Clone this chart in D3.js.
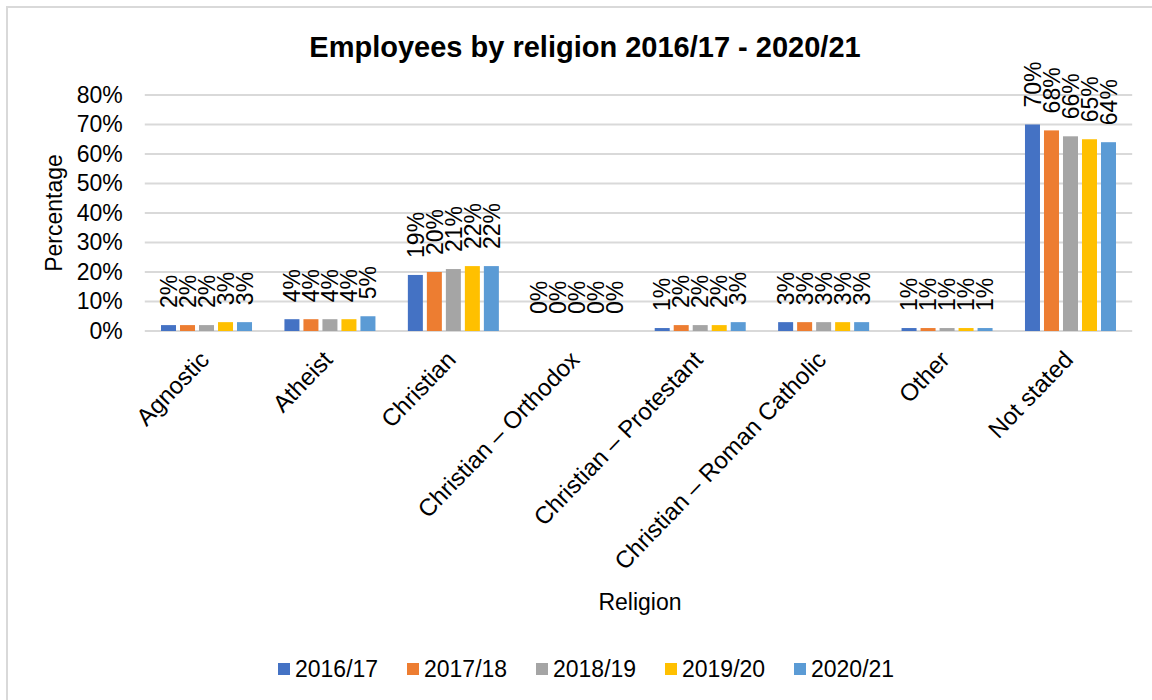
<!DOCTYPE html>
<html>
<head>
<meta charset="utf-8">
<script src="https://cdn.jsdelivr.net/npm/d3@7/dist/d3.min.js"></script>
<style>
  html, body { margin: 0; padding: 0; background: #fff; }
  svg { display: block; font-family: Arial, "Liberation Sans", sans-serif; }
</style>
</head>
<body>
<svg id="chart" width="1152" height="700"></svg>
<script>
// Religion categories on the x axis
const categories = [
  "Agnostic", "Atheist", "Christian", "Christian \u2013 Orthodox",
  "Christian \u2013 Protestant", "Christian \u2013 Roman Catholic", "Other", "Not stated"
];
// Reporting years (one bar per year in each category)
const years = ["2016/17", "2017/18", "2018/19", "2019/20", "2020/21"];
// Percent of employees per year, in category order
const v201617 = [2, 4, 19, 0, 1, 3, 1, 70];
const v201718 = [2, 4, 20, 0, 2, 3, 1, 68];
const v201819 = [2, 4, 21, 0, 2, 3, 1, 66];
const v201920 = [3, 4, 22, 0, 2, 3, 1, 65];
const v202021 = [3, 5, 22, 0, 3, 3, 1, 64];
const seriesValues = [v201617, v201718, v201819, v201920, v202021];
const colors = ["#4472C4", "#ED7D31", "#A5A5A5", "#FFC000", "#5B9BD5"];
const yTicks = [0, 10, 20, 30, 40, 50, 60, 70, 80];

const svg = d3.select("#chart");
const FONT = 23;
const FAMILY = "Arial, 'Liberation Sans', sans-serif";

// Outer chart frame
svg.append("rect")
  .attr("x", 7).attr("y", 7).attr("width", 1160).attr("height", 710)
  .attr("fill", "none").attr("stroke", "#D9D9D9").attr("stroke-width", 2);

const plot = { left: 144.8, right: 1132.2, top: 95, bottom: 331 };

const x = d3.scaleBand()
  .domain(categories)
  .range([plot.left, plot.right])
  .paddingInner(0.2626)
  .paddingOuter(0.1313);

const xs = d3.scaleBand()
  .domain(years)
  .range([0, x.bandwidth()])
  .paddingInner(4 / 19)
  .paddingOuter(0);

const y = d3.scaleLinear().domain([0, 80]).range([plot.bottom, plot.top]);

// Horizontal gridlines
svg.append("g")
  .selectAll("line")
  .data(yTicks)
  .join("line")
  .attr("x1", plot.left).attr("x2", plot.right)
  .attr("y1", d => y(d)).attr("y2", d => y(d))
  .attr("stroke", "#D9D9D9").attr("stroke-width", 2);

// Y axis labels
const yAxis = d3.axisLeft(y).tickValues(yTicks).tickFormat(d => d + "%").tickSize(0).tickPadding(22);
const gy = svg.append("g").attr("transform", `translate(${plot.left},0)`).call(yAxis);
gy.select(".domain").remove();
gy.selectAll("text").attr("font-size", FONT).attr("fill", "#000").attr("font-family", FAMILY);

// X axis labels, slanted
const xAxis = d3.axisBottom(x).tickSize(0).tickPadding(0);
const gx = svg.append("g").attr("transform", `translate(0,${plot.bottom})`).call(xAxis);
gx.select(".domain").remove();
gx.selectAll("text")
  .attr("font-size", 24).attr("fill", "#000").attr("font-family", FAMILY)
  .attr("text-anchor", "end")
  .attr("dy", null)
  .attr("y", 0)
  .attr("transform", "translate(4,30) rotate(-46)");

// Bars and value labels
const rows = [];
seriesValues.forEach((vals, si) => {
  vals.forEach((v, ci) => rows.push({ cat: categories[ci], year: years[si], v, si }));
});

svg.append("g")
  .selectAll("rect")
  .data(rows)
  .join("rect")
  .attr("x", d => x(d.cat) + xs(d.year))
  .attr("y", d => y(d.v))
  .attr("width", xs.bandwidth())
  .attr("height", d => y(0) - y(d.v))
  .attr("fill", d => colors[d.si]);

svg.append("g")
  .selectAll("text")
  .data(rows)
  .join("text")
  .attr("transform", d => {
    const cx = x(d.cat) + xs(d.year) + xs.bandwidth() / 2;
    const cy = y(d.v) - 17;
    return `translate(${cx},${cy}) rotate(-90)`;
  })
  .attr("dy", "0.36em")
  .attr("text-anchor", "start")
  .attr("font-size", FONT)
  .attr("fill", "#000")
  .text(d => d.v + "%");

// Title
svg.append("text")
  .attr("x", 585).attr("y", 57)
  .attr("text-anchor", "middle")
  .attr("font-size", 29).attr("font-weight", "bold").attr("fill", "#000")
  .text("Employees by religion 2016/17 - 2020/21");

// Axis titles
svg.append("text")
  .attr("x", 640).attr("y", 610)
  .attr("text-anchor", "middle")
  .attr("font-size", FONT).attr("fill", "#000")
  .text("Religion");

svg.append("text")
  .attr("transform", "translate(62,213) rotate(-90)")
  .attr("text-anchor", "middle")
  .attr("font-size", FONT).attr("fill", "#000")
  .text("Percentage");

// Legend
const legend = svg.append("g")
  .selectAll("g")
  .data(years)
  .join("g")
  .attr("transform", (d, i) => `translate(${278 + i * 129},663)`);
legend.append("rect")
  .attr("width", 12).attr("height", 12)
  .attr("fill", (d, i) => colors[i]);
legend.append("text")
  .attr("x", 17).attr("y", 6).attr("dy", "0.36em")
  .attr("font-size", FONT).attr("fill", "#000")
  .text(d => d);
</script>
</body>
</html>
